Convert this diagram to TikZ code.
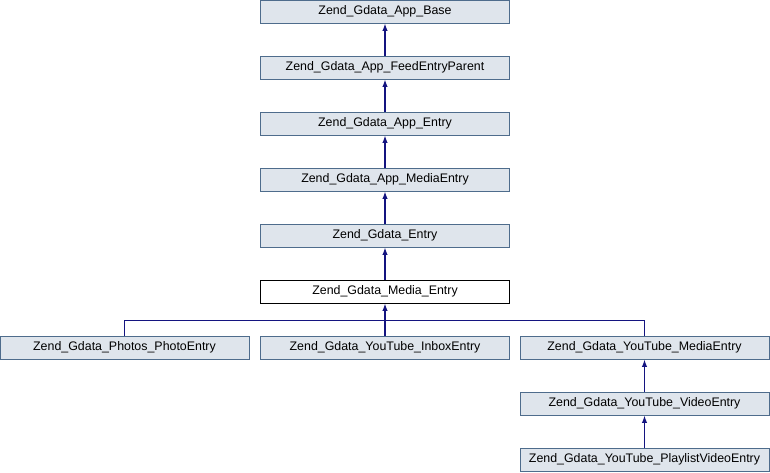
\documentclass[tikz,border=0pt]{standalone}
\usepackage{fontspec}
\setmainfont{Liberation Sans}
\usetikzlibrary{arrows.meta, positioning}

\definecolor{boxfill}{HTML}{DFE5EC}
\definecolor{boxline}{HTML}{4E6C8C}
\definecolor{edgeblue}{HTML}{141480}

\begin{document}
\begin{tikzpicture}[
  x=0.75pt, y=-0.75pt,
  every node/.style={font=\fontsize{9.3pt}{11pt}\selectfont, align=center},
  classbox/.style={rectangle, draw=boxline, fill=boxfill, line width=0.75pt,
    inner sep=0pt, minimum width=186.75pt, minimum height=17.25pt},
  focusbox/.style={classbox, draw=black, fill=white},
  inherit/.style={draw=edgeblue, line width=0.9pt, -{Latex[length=5.5pt, width=4pt]}},
  link/.style={draw=edgeblue, line width=0.9pt}
]
\useasboundingbox (0,0) rectangle (770,472);

% main chain
\node[classbox] (appbase) at (385,11.5) {Zend\_Gdata\_App\_Base};
\node[classbox] (feedparent) at (385,67.5) {Zend\_Gdata\_App\_FeedEntryParent};
\node[classbox] (appentry) at (385,123.5) {Zend\_Gdata\_App\_Entry};
\node[classbox] (appmedia) at (385,179.5) {Zend\_Gdata\_App\_MediaEntry};
\node[classbox] (gdentry) at (385,235.5) {Zend\_Gdata\_Entry};
\node[focusbox] (mediaentry) at (385,291.5) {Zend\_Gdata\_Media\_Entry};

% subclasses
\node[classbox] (photoentry) at (124.5,347.5) {Zend\_Gdata\_Photos\_PhotoEntry};
\node[classbox] (inboxentry) at (385,347.5) {Zend\_Gdata\_YouTube\_InboxEntry};
\node[classbox] (ytmedia) at (644.5,347.5) {Zend\_Gdata\_YouTube\_MediaEntry};
\node[classbox] (ytvideo) at (644.5,403.5) {Zend\_Gdata\_YouTube\_VideoEntry};
\node[classbox] (ytplaylist) at (644.5,459.5) {Zend\_Gdata\_YouTube\_PlaylistVideoEntry};

\coordinate (split) at (385,320.5);

\draw[inherit] (feedparent) -- (appbase);
\draw[inherit] (appentry) -- (feedparent);
\draw[inherit] (appmedia) -- (appentry);
\draw[inherit] (gdentry) -- (appmedia);
\draw[inherit] (mediaentry) -- (gdentry);

\draw[link] (photoentry.north) |- (split) -| (ytmedia.north);
\draw[link] (inboxentry.north) -- (split);
\draw[inherit] (split) -- (mediaentry.south);

\draw[inherit] (ytvideo) -- (ytmedia);
\draw[inherit] (ytplaylist) -- (ytvideo);
\end{tikzpicture}
\end{document}
